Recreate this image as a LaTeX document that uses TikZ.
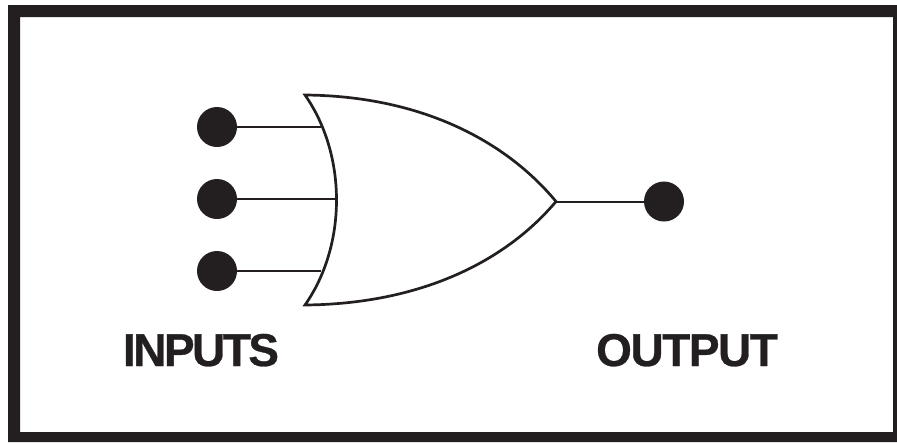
\documentclass[tikz,border=0pt]{standalone}
\usepackage{fontspec}
\setmainfont{Liberation Sans}
\newfontfamily\lblfontA[LetterSpace=-5.5,Kerning=On,FakeBold=0.6]{Liberation Sans Bold}
\newfontfamily\lblfontB[LetterSpace=-3.2,Kerning=On,FakeBold=0.6]{Liberation Sans Bold}
\definecolor{ink}{HTML}{231F20}
\tikzset{
  pin/.style={circle,fill=ink,draw=none,minimum size=40pt,inner sep=0pt},
  wire/.style={draw=ink,line width=2pt},
  gate/.style={draw=ink,line width=2.7pt,fill=white,line join=miter},
  lbl/.style={fontsize 46,text=ink,inner sep=0pt,anchor=base},
  fontsize 46/.style={font=\fontsize{46pt}{46pt}\selectfont}
}
\begin{document}
\begin{tikzpicture}[x=1pt,y=-1pt]
\useasboundingbox (0,0) rectangle (897,442);
\fill[white] (0,0) rectangle (897,442);
\fill[ink,even odd rule] (8,5) rectangle (897,442) (20,17) rectangle (893,432);
% input and output terminals
\node[pin] (i1) at (217,127) {};
\node[pin] (i2) at (217,199) {};
\node[pin] (i3) at (217,271) {};
\node[pin] (o) at (664,201.5) {};
% points on the gate where wires land
\coordinate (g1) at (321,127);
\coordinate (g2) at (335,199);
\coordinate (g3) at (321,271);
\coordinate (gout) at (556,201.5);
\draw[wire] (i1) -- (g1);
\draw[wire] (i2) -- (g2);
\draw[wire] (i3) -- (g3);
\draw[wire] (gout) -- (o);
\draw[gate] (305,95) .. controls (420,96) and (505,140) .. (gout)
  .. controls (505,262) and (420,304) .. (305,305)
  .. controls (347,245) and (347,155) .. cycle;
\node[lbl] (in) at (201,366) {\lblfontA INPUTS};
\node[lbl] (out) at (687,366) {\lblfontB OUTPUT};
\end{tikzpicture}
\end{document}
